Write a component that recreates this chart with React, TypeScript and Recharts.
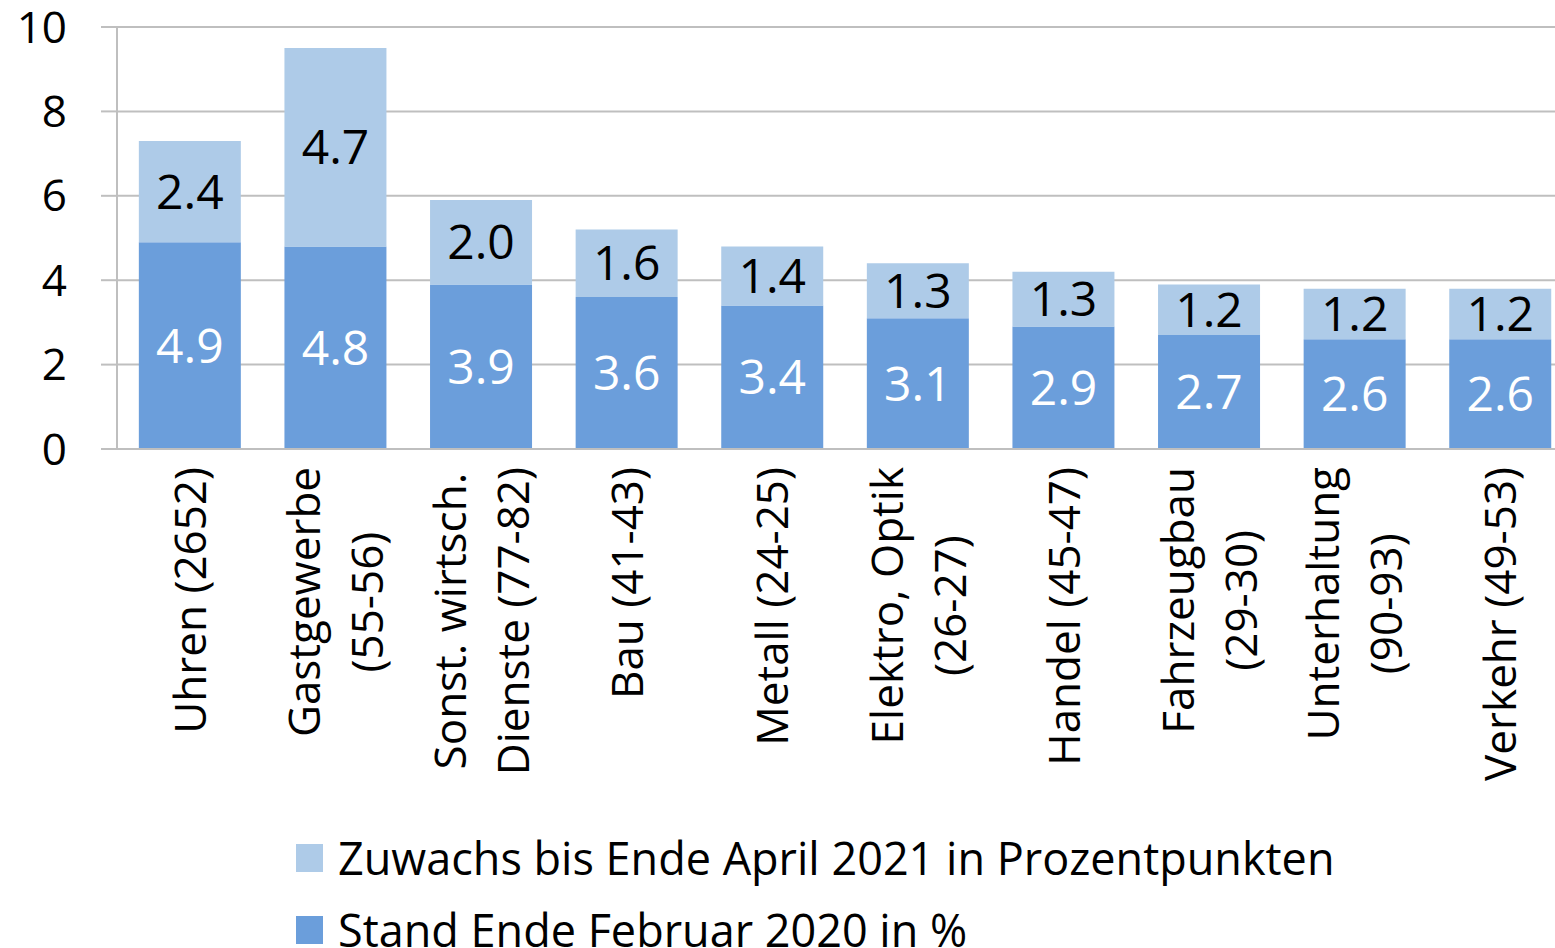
import { Bar, BarChart, CartesianGrid, LabelList, Legend, XAxis, YAxis } from "recharts"

const categories = [
    "Uhren (2652)",
    "Gastgewerbe\n(55-56)",
    "Sonst. wirtsch.\nDienste (77-82)",
    "Bau (41-43)",
    "Metall (24-25)",
    "Elektro, Optik\n(26-27)",
    "Handel (45-47)",
    "Fahrzeugbau\n(29-30)",
    "Unterhaltung\n(90-93)",
    "Verkehr (49-53)",
]
const standFeb2020 = [4.9, 4.8, 3.9, 3.6, 3.4, 3.1, 2.9, 2.7, 2.6, 2.6]
const zuwachsApr2021 = [2.4, 4.7, 2.0, 1.6, 1.4, 1.3, 1.3, 1.2, 1.2, 1.2]
const yTicks = [0, 2, 4, 6, 8, 10]
const seriesNames = {
    stand: "Stand Ende Februar 2020 in %",
    zuwachs: "Zuwachs bis Ende April 2021 in Prozentpunkten",
}

const data = categories.map((name, i) => ({
    name,
    stand: standFeb2020[i],
    zuwachs: zuwachsApr2021[i],
}))

const FONT = "'Open Sans', Lato, sans-serif"
const WEIGHT = 400
const DARK = "#6b9edb"
const LIGHT = "#aecbe8"
const GRID = "#bfbfbf"
const LABEL_SIZE = 44
const LINE_H = 63

let ctx: CanvasRenderingContext2D | null = null
function textWidth(s: string, size: number) {
    if (!ctx) ctx = document.createElement("canvas").getContext("2d")
    if (!ctx) return s.length * size * 0.5
    ctx.font = `${WEIGHT} ${size}px ${FONT}`
    return ctx.measureText(s).width
}

// rotated category labels, multi-line centred on the longest line
function CategoryTick({ x, y, payload }: any) {
    const lines = String(payload.value).split("\n")
    const w = Math.max(...lines.map((l) => textWidth(l, LABEL_SIZE)))
    const n = lines.length
    return (
        <g transform={`translate(${x},${y}) rotate(-90)`}>
            {lines.map((l, i) => (
                <text
                    key={i}
                    x={-w / 2}
                    y={(i - (n - 1) / 2) * LINE_H + 0.37 * LABEL_SIZE}
                    textAnchor="middle"
                    fontSize={LABEL_SIZE}
                    fontFamily={FONT}
                    fontWeight={WEIGHT}
                    fill="#000"
                >
                    {l}
                </text>
            ))}
        </g>
    )
}

function LegendBox() {
    const items = [
        { label: seriesNames.zuwachs, color: LIGHT },
        { label: seriesNames.stand, color: DARK },
    ]
    return (
        <div style={{ fontFamily: FONT, fontWeight: WEIGHT, fontSize: 45, color: "#000" }}>
            {items.map((it) => (
                <div key={it.label} style={{ display: "flex", alignItems: "center", height: 72 }}>
                    <span style={{ display: "inline-block", width: 27, height: 28, background: it.color, marginRight: 15 }} />
                    <span style={{ lineHeight: "72px", whiteSpace: "nowrap" }}>{it.label}</span>
                </div>
            ))}
        </div>
    )
}

export default function App() {
    return (
        <div style={{ position: "fixed", left: 0, top: 0, width: 1555, height: 948, overflow: "hidden", background: "#fff" }}>
            <BarChart
                width={1580}
                height={948}
                data={data}
                margin={{ top: 27, right: 7, left: 0, bottom: 0 }}
                barCategoryGap="15%"
            >
                <CartesianGrid vertical={false} stroke={GRID} strokeWidth={2} />
                <XAxis
                    dataKey="name"
                    interval={0}
                    height={499}
                    tickLine={false}
                    tickSize={0}
                    tickMargin={18}
                    axisLine={{ stroke: GRID, strokeWidth: 2 }}
                    tick={<CategoryTick />}
                />
                <YAxis
                    width={117}
                    domain={[0, 10]}
                    ticks={yTicks}
                    interval={0}
                    tickSize={16}
                    tickMargin={34}
                    tickLine={{ stroke: GRID, strokeWidth: 2 }}
                    axisLine={{ stroke: GRID, strokeWidth: 2 }}
                    tick={{ fill: "#000", fontSize: 44, fontFamily: FONT, fontWeight: WEIGHT }}
                />
                <Legend
                    layout="vertical"
                    verticalAlign="middle"
                    align="center"
                    content={<LegendBox />}
                    wrapperStyle={{ top: 822, left: 296, width: 1200, height: 150 }}
                />
                <Bar dataKey="stand" stackId="a" fill={DARK} name={seriesNames.stand} isAnimationActive={false}>
                    <LabelList
                        dataKey="stand"
                        position="center"
                        fill="#fff"
                        fontSize={48}
                        fontFamily={FONT}
                        fontWeight={WEIGHT}
                        formatter={(v: any) => Number(v).toFixed(1)}
                    />
                </Bar>
                <Bar dataKey="zuwachs" stackId="a" fill={LIGHT} name={seriesNames.zuwachs} isAnimationActive={false}>
                    <LabelList
                        dataKey="zuwachs"
                        position="center"
                        fill="#000"
                        fontSize={48}
                        fontFamily={FONT}
                        fontWeight={WEIGHT}
                        formatter={(v: any) => Number(v).toFixed(1)}
                    />
                </Bar>
            </BarChart>
        </div>
    )
}
